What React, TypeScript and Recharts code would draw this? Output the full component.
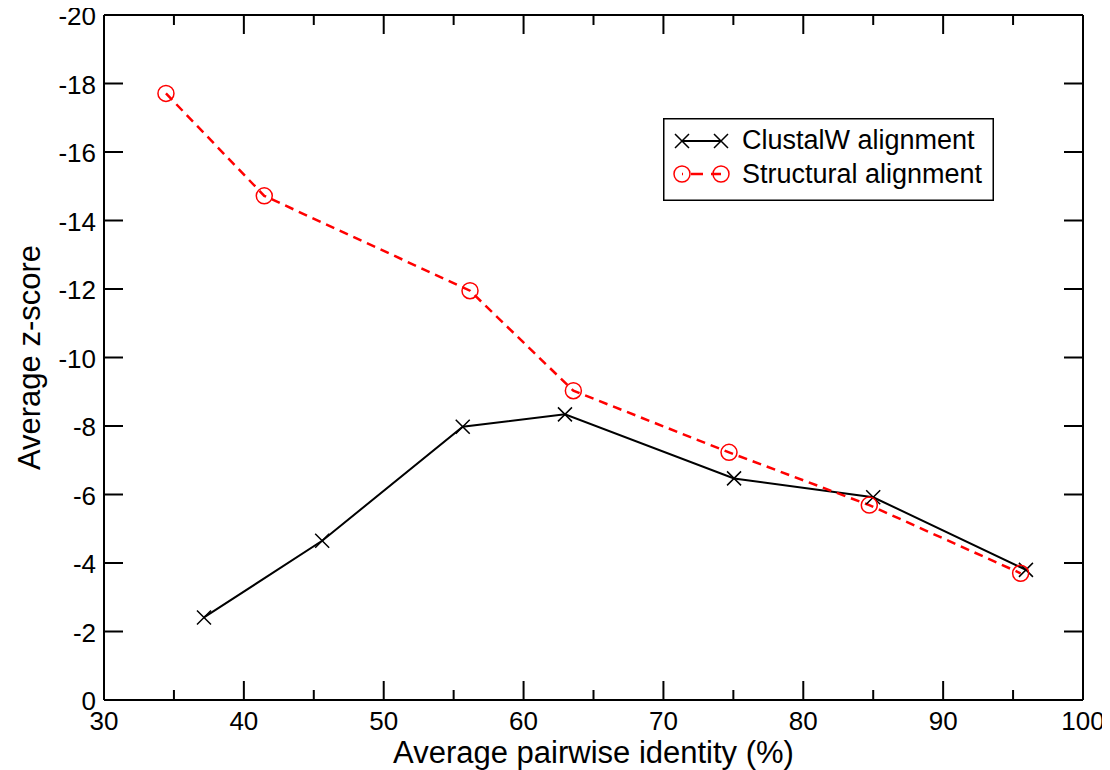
import React from 'react';
import { LineChart, Line, XAxis, YAxis, Legend, Label } from 'recharts';

const FONT = '"Liberation Sans", Arial, Helvetica, sans-serif';

// Data
const clustalX = [37.15, 45.6, 55.65, 62.96, 75.05, 85.0, 95.92];
const clustalY = [-2.41, -4.65, -7.98, -8.34, -6.47, -5.92, -3.8];
const structX = [34.43, 41.46, 56.17, 63.56, 74.69, 84.72, 95.54];
const structY = [-17.71, -14.72, -11.95, -9.03, -7.23, -5.69, -3.7];

const xTicks = [30, 35, 40, 45, 50, 55, 60, 65, 70, 75, 80, 85, 90, 95, 100];
const yTicks = [0, -2, -4, -6, -8, -10, -12, -14, -16, -18, -20];

const seriesNames = ['ClustalW alignment', 'Structural alignment'];
const xTitle = 'Average pairwise identity (%)';
const yTitle = 'Average z-score';

const clustalData = clustalX.map((x, i) => ({ x, y: clustalY[i] }));
const structData = structX.map((x, i) => ({ x, y: structY[i] }));

const RED = '#ff0000';

const XMark = ({ cx, cy, s = 7 }: any) => (
  <path d={`M${cx - s},${cy - s}L${cx + s},${cy + s}M${cx - s},${cy + s}L${cx + s},${cy - s}`} stroke="#000" strokeWidth={1.5} fill="none" />
);
const OMark = ({ cx, cy, r = 8 }: any) => (
  <circle cx={cx} cy={cy} r={r} stroke={RED} strokeWidth={1.5} fill="none" />
);

const renderXDot = (p: any) => <XMark key={`cx${p.index}`} cx={p.cx} cy={p.cy} />;
const renderODot = (p: any) => <OMark key={`so${p.index}`} cx={p.cx} cy={p.cy} />;

const isMajorX = (v: number) => v % 10 === 0;

const BottomTick = (props: any) => {
  const { x, y, payload } = props;
  const v = payload.value;
  const major = isMajorX(v);
  return (
    <g>
      <line x1={x} y1={y} x2={x} y2={y - (major ? 19 : 10)} stroke="#000" strokeWidth={2} />
      {major && (
        <text x={x} y={y + 30} textAnchor="middle" fontSize={26} fontFamily={FONT} fill="#000">
          {v}
        </text>
      )}
    </g>
  );
};

const TopTick = (props: any) => {
  const { x, y, payload } = props;
  const major = isMajorX(payload.value);
  return <line x1={x} y1={y} x2={x} y2={y + (major ? 19 : 10)} stroke="#000" strokeWidth={2} />;
};

const LeftTick = (props: any) => {
  const { x, y, payload } = props;
  return (
    <g>
      <line x1={x} y1={y} x2={x + 19} y2={y} stroke="#000" strokeWidth={2} />
      <text x={x - 8} y={y + 10} textAnchor="end" fontSize={26} fontFamily={FONT} fill="#000">
        {payload.value}
      </text>
    </g>
  );
};

const RightTick = (props: any) => {
  const { x, y } = props;
  return <line x1={x} y1={y} x2={x - 19} y2={y} stroke="#000" strokeWidth={2} />;
};

const seriesStyle: Record<string, { marker: 'x' | 'o'; dash?: string; width: number }> = {
  [seriesNames[0]]: { marker: 'x', width: 2 },
  [seriesNames[1]]: { marker: 'o', dash: '9 6', width: 2.5 },
};

const renderLegend = (props: any) => {
  const payload = props.payload || [];
  const rows = [
    { cy: 23, by: 31 },
    { cy: 56, by: 65 },
  ];
  return (
    <svg width={331} height={83} style={{ display: 'block' }}>
      <rect x={0.75} y={0.75} width={329.5} height={81.5} fill="#fff" stroke="#000" strokeWidth={1.5} />
      {payload.map((entry: any, i: number) => {
        const st = seriesStyle[entry.value] || { marker: 'x', width: 2 };
        const r = rows[i] || rows[0];
        const x1 = 19;
        const x2 = 58;
        return (
          <g key={entry.value}>
            <line x1={x1} y1={r.cy} x2={x2} y2={r.cy} stroke={entry.color} strokeWidth={st.width} strokeDasharray={st.dash ? '12 8' : undefined} strokeDashoffset={st.dash ? -9 : undefined} />
            {st.marker === 'x' ? (
              <>
                <XMark cx={x1} cy={r.cy} />
                <XMark cx={x2} cy={r.cy} />
              </>
            ) : (
              <>
                <OMark cx={x1} cy={r.cy} />
                <OMark cx={x2} cy={r.cy} />
              </>
            )}
            <text x={79} y={r.by} fontSize={27} fontFamily={FONT} fill="#000">
              {entry.value}
            </text>
          </g>
        );
      })}
    </svg>
  );
};

const XTitle = (p: any) => {
  const vb = p.viewBox || { x: 96, y: 692, width: 979, height: 70 };
  return (
    <text x={vb.x + vb.width / 2} y={vb.y + 63} textAnchor="middle" fontSize={31} fontFamily={FONT} fill="#000">
      {xTitle}
    </text>
  );
};

const YTitle = (p: any) => {
  const vb = p.viewBox || { x: 0, y: 7, width: 96, height: 685 };
  const cx = 32;
  const cy = vb.y + vb.height / 2;
  return (
    <text x={cx} y={cy} transform={`rotate(-90, ${cx}, ${cy})`} textAnchor="middle" fontSize={31} fontFamily={FONT} fill="#000">
      {yTitle}
    </text>
  );
};

export default function App() {
  return (
    <div style={{ width: 1102, height: 762, fontFamily: FONT }}>
      <LineChart width={1102} height={762} margin={{ top: 6, right: 26, bottom: 0, left: 0 }}>
        <XAxis
          xAxisId="bottom"
          type="number"
          dataKey="x"
          domain={[30, 100]}
          allowDataOverflow
          ticks={xTicks}
          interval={0}
          height={70}
          tickSize={0}
          tickMargin={0}
          tickLine={false}
          axisLine={{ stroke: '#000', strokeWidth: 2 }}
          tick={<BottomTick />}
        >
          <Label content={<XTitle />} />
        </XAxis>
        <XAxis
          xAxisId="top"
          orientation="top"
          type="number"
          dataKey="x"
          domain={[30, 100]}
          allowDataOverflow
          ticks={xTicks}
          interval={0}
          height={1}
          tickSize={0}
          tickMargin={0}
          tickLine={false}
          axisLine={{ stroke: '#000', strokeWidth: 2 }}
          tick={<TopTick />}
        />
        <YAxis
          yAxisId="left"
          type="number"
          domain={[-20, 0]}
          reversed
          allowDataOverflow
          ticks={yTicks}
          interval={0}
          width={96}
          tickSize={0}
          tickMargin={0}
          tickLine={false}
          axisLine={{ stroke: '#000', strokeWidth: 2 }}
          tick={<LeftTick />}
        >
          <Label content={<YTitle />} />
        </YAxis>
        <YAxis
          yAxisId="right"
          orientation="right"
          type="number"
          domain={[-20, 0]}
          reversed
          allowDataOverflow
          ticks={yTicks}
          interval={0}
          width={1}
          tickSize={0}
          tickMargin={0}
          tickLine={false}
          axisLine={{ stroke: '#000', strokeWidth: 2 }}
          tick={<RightTick />}
        />
        <Legend
          layout="vertical"
          align="center"
          verticalAlign="middle"
          wrapperStyle={{ left: 655, top: 110, width: 331, height: 83 }}
          content={renderLegend}
        />
        <Line
          xAxisId="bottom"
          yAxisId="left"
          name={seriesNames[0]}
          data={clustalData}
          dataKey="y"
          stroke="#000"
          strokeWidth={2}
          dot={renderXDot}
          activeDot={false}
          isAnimationActive={false}
        />
        <Line
          xAxisId="top"
          yAxisId="right"
          name={seriesNames[1]}
          data={structData}
          dataKey="y"
          stroke={RED}
          strokeWidth={2.5}
          strokeDasharray="9 6"
          dot={renderODot}
          activeDot={false}
          isAnimationActive={false}
        />
      </LineChart>
    </div>
  );
}
